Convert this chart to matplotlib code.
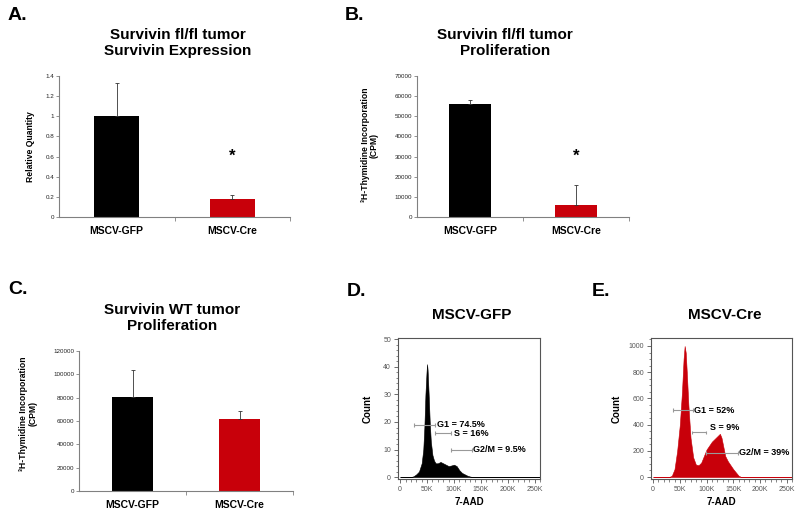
import numpy as np
import matplotlib.pyplot as plt
from matplotlib.ticker import MultipleLocator, FixedLocator

plt.rcParams['font.family'] = ['Liberation Sans', 'DejaVu Sans']

RED = '#c8000a'

groups = ['MSCV-GFP', 'MSCV-Cre']

# A: survivin expression (relative quantity)
expr_values = [1.0, 0.18]
expr_errors = [0.33, 0.04]

# B: fl/fl tumor proliferation (CPM)
flfl_values = [56000, 6000]
flfl_errors = [2000, 9800]

# C: WT tumor proliferation (CPM)
wt_values = [81000, 62000]
wt_errors = [23000, 6500]

# D/E: cell cycle histograms, 7-AAD in K vs count
gfp_dna = [0, 20, 25, 30, 35, 40, 43, 45, 47, 49, 50, 51, 53, 55, 57, 60, 63, 66, 70,
           75, 80, 85, 90, 95, 100, 105, 110, 115, 120, 125, 130, 135, 260]
gfp_count = [0, 0, 0.3, 1, 2, 5, 10, 18, 30, 38, 41, 39, 30, 20, 13, 8, 6, 5, 5,
             5.5, 5, 4.5, 4, 4.2, 4.5, 4, 2.5, 1.5, 1, 0.5, 0.2, 0, 0]

cre_dna = [0, 30, 35, 40, 45, 50, 54, 57, 59, 61, 63, 66, 70, 75, 80, 85, 90, 95, 100,
           105, 110, 115, 120, 125, 128, 132, 135, 140, 145, 150, 155, 160, 165, 260]
cre_count = [0, 0, 10, 60, 200, 400, 650, 900, 1000, 950, 800, 550, 300, 150, 95, 90, 110,
             160, 210, 240, 270, 290, 310, 330, 300, 220, 160, 120, 90, 60, 35, 10, 0, 0]

gfp_gate_labels = ['G1 = 74.5%', 'S = 16%', 'G2/M = 9.5%']
gfp_gate_start = [26, 65, 94]
gfp_gate_end = [65, 94, 133]
gfp_gate_level = [19, 16, 10]
gfp_text_x = [68, 101, 135]
gfp_text_y = [19, 16, 10]

cre_gate_labels = ['G1 = 52%', 'S = 9%', 'G2/M = 39%']
cre_gate_start = [37, 73, 99]
cre_gate_end = [75, 99, 159]
cre_gate_level = [510, 340, 185]
cre_text_x = [76, 106, 160]
cre_text_y = [510, 375, 185]

W, H = 800, 517
fig = plt.figure(figsize=(8, 5.17), dpi=100)


def box(l, t, r, b):
    return [l / W, 1 - b / H, (r - l) / W, (b - t) / H]


def ftext(x, y, s, **kw):
    fig.text(x / W, 1 - y / H, s, **kw)


def bar_panel(rect, values, errors, ymax, ystep, ylabel, label_xy, star_y=None):
    ax = fig.add_axes(rect)
    x = np.arange(len(groups))
    ax.bar(x, values, width=0.39, color=['black', RED], zorder=2)
    ax.errorbar(x, values, yerr=[np.zeros(len(values)), errors], fmt='none',
                ecolor='#333333', elinewidth=0.6, capsize=1.5, capthick=0.6, zorder=3)
    ax.set_xlim(-0.5, 1.5)
    ax.set_ylim(0, ymax)
    ticks = np.arange(0, ymax + ystep / 2, ystep)
    ax.set_yticks(ticks)
    ax.set_yticklabels([f'{t:g}' for t in ticks])
    ax.set_xticks(x)
    ax.set_xticklabels(groups, fontsize=7.5, fontweight='bold')
    ax.xaxis.set_minor_locator(FixedLocator([0.5, 1.5]))
    ax.tick_params(axis='x', which='major', length=0, pad=6.5)
    ax.tick_params(axis='x', which='minor', length=3, width=0.6, color='#808080')
    ax.tick_params(axis='y', length=2, width=0.6, color='#808080', labelsize=4.5,
                   labelcolor='#222222', pad=1.5)
    for s in ['top', 'right']:
        ax.spines[s].set_visible(False)
    for s in ['left', 'bottom']:
        ax.spines[s].set_color('#808080')
        ax.spines[s].set_linewidth(0.8)
    ax.set_ylabel(ylabel, fontsize=6.2, fontweight='bold', linespacing=1.0)
    ax.yaxis.set_label_coords(*label_xy)
    if star_y is not None:
        ax.text(1, star_y, '*', ha='center', va='center', fontsize=12, fontweight='bold')
    return ax


def flow_panel(rect, dna, count, color, ylim, ymajor, yminor, gates, texts, ylabel_x):
    ax = fig.add_axes(rect)
    ax.fill_between(np.array(dna) * 1000, count, color=color, lw=0.4, edgecolor=color)
    ax.set_xlim(-4000, 260000)
    ax.set_ylim(*ylim)
    ax.set_xticks(np.arange(0, 250001, 50000))
    ax.set_xticklabels(['0', '50K', '100K', '150K', '200K', '250K'])
    ax.xaxis.set_minor_locator(MultipleLocator(10000))
    ax.yaxis.set_major_locator(MultipleLocator(ymajor))
    ax.yaxis.set_minor_locator(MultipleLocator(yminor))
    ax.tick_params(which='major', length=3, width=0.6, color='#555555', labelsize=5,
                   labelcolor='#555555', pad=2)
    ax.tick_params(which='minor', length=1.8, width=0.5, color='#555555')
    for s in ax.spines.values():
        s.set_color('#555555')
        s.set_linewidth(0.8)
    labels, start, end, level = gates
    tx, ty = texts
    cap = (ylim[1] - ylim[0]) * 0.014
    for lab, a, b, lv, x, y in zip(labels, start, end, level, tx, ty):
        ax.hlines(lv, a * 1000, b * 1000, color='#999999', lw=0.8)
        ax.vlines([a * 1000, b * 1000], lv - cap, lv + cap, color='#999999', lw=0.8)
        ax.text(x * 1000, y, lab, ha='left', va='center', fontsize=6.5, fontweight='bold')
    ax.set_xlabel('7-AAD', fontsize=7, fontweight='bold', labelpad=3)
    ax.set_ylabel('Count', fontsize=7, fontweight='bold')
    ax.yaxis.set_label_coords(ylabel_x, 0.5)
    return ax


# A
bar_panel(box(59, 76, 290, 217), expr_values, expr_errors, 1.4, 0.2,
          'Relative Quantity', (-0.105, 0.5), star_y=0.6)
# B
bar_panel(box(417, 76, 629, 217), flfl_values, flfl_errors, 70000, 10000,
          '³H-Thymidine Incorporation\n(CPM)', (-0.18, 0.51), star_y=30000)
# C
bar_panel(box(79, 351, 293, 491), wt_values, wt_errors, 120000, 20000,
          '³H-Thymidine Incorporation\n(CPM)', (-0.194, 0.55))
# D
flow_panel(box(398, 338, 540, 479), gfp_dna, gfp_count, 'black', (-0.7, 50.5), 10, 2,
           (gfp_gate_labels, gfp_gate_start, gfp_gate_end, gfp_gate_level),
           (gfp_text_x, gfp_text_y), -0.176)
# E
flow_panel(box(651, 338, 792, 479), cre_dna, cre_count, RED, (-15, 1061), 200, 50,
           (cre_gate_labels, cre_gate_start, cre_gate_end, cre_gate_level),
           (cre_text_x, cre_text_y), -0.206)

title_kw = dict(ha='center', va='center', fontsize=11, fontweight='bold', linespacing=1.2)
ftext(178, 43, 'Survivin fl/fl tumor\nSurvivin Expression', **title_kw)
ftext(505, 43, 'Survivin fl/fl tumor\nProliferation', **title_kw)
ftext(172, 318, 'Survivin WT tumor\nProliferation', **title_kw)
ftext(472, 315, 'MSCV-GFP', **title_kw)
ftext(725, 315, 'MSCV-Cre', **title_kw)

letter_kw = dict(ha='left', va='center', fontsize=14, fontweight='bold')
ftext(8, 16, 'A.', **letter_kw)
ftext(345, 16, 'B.', **letter_kw)
ftext(8, 290, 'C.', **letter_kw)
ftext(347, 291, 'D.', **letter_kw)
ftext(592, 291, 'E.', **letter_kw)

fig.savefig('out.png', dpi=100)
